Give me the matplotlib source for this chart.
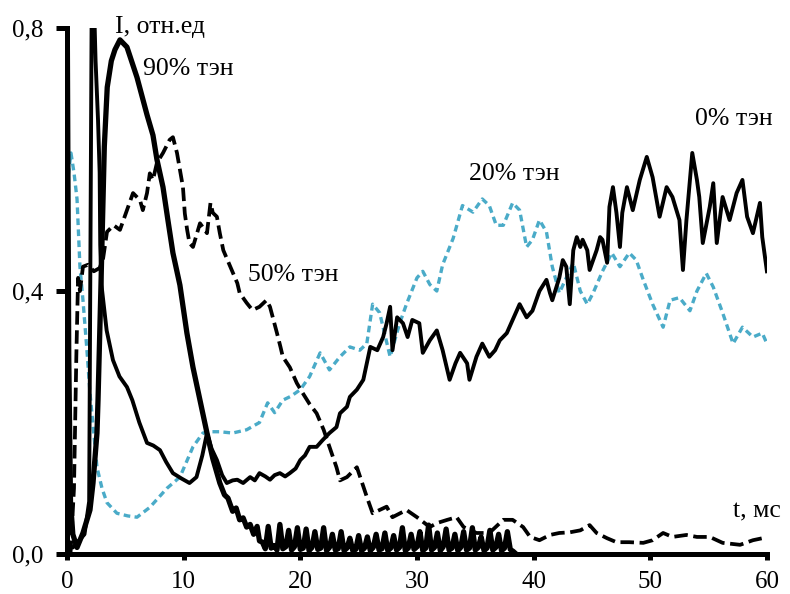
import numpy as np
import matplotlib
matplotlib.use("Agg")
import matplotlib.pyplot as plt

plt.rcParams['font.family'] = ['Liberation Serif', 'DejaVu Serif']

# 0% TEN: sharp flash near 2 ms, then slow growth
t0 = [0.0, 0.5, 1.0, 1.5, 1.9, 2.05, 2.15, 2.3, 2.45, 2.66, 2.8, 2.85, 2.95, 3.4, 3.94,
      4.5, 5.14, 5.6, 6.2, 6.86, 7.4, 7.97, 8.5, 9.08, 9.8, 10.5, 11.1, 11.6, 12.0,
      12.4, 12.85, 13.3, 13.7, 14.2, 14.6, 15.1, 15.7, 16.1, 16.5, 17.0, 17.4, 17.8,
      18.25, 18.7, 19.1, 19.6, 20.0, 20.4, 20.8, 21.4, 21.9, 22.5, 23.1, 23.4, 24.0,
      24.25, 24.85, 25.4, 26.0, 26.6, 27.1, 27.4, 27.7, 27.9, 28.3, 28.8, 29.2, 29.6,
      30.2, 30.5, 31.1, 31.7, 32.2, 32.8, 33.3, 33.7, 34.3, 34.5, 35.1, 35.6, 36.2,
      36.7, 37.1, 37.7, 38.2, 38.8, 39.4, 39.9, 40.5, 41.1, 41.4, 41.6, 42.2, 42.5,
      42.8, 43.1, 43.4, 43.7, 44.0, 44.2, 44.6, 44.8, 45.4, 45.7, 45.9, 46.3, 46.5,
      46.8, 47.1, 47.4, 47.6, 48.0, 48.5, 49.1, 49.7, 50.2, 50.8, 51.4, 51.9, 52.5,
      52.8, 53.1, 53.4, 53.6, 54.0, 54.2, 54.5, 55.1, 55.4, 55.7, 56.2, 56.8, 57.4,
      57.9, 58.3, 58.8, 59.4, 59.6, 60.0]
i0 = [0.01, 0.01, 0.02, 0.03, 0.08, 0.6, 0.95, 0.85, 0.75, 0.66, 0.58, 0.47, 0.41, 0.34, 0.295,
      0.27, 0.254, 0.234, 0.2, 0.169, 0.165, 0.158, 0.14, 0.123, 0.115, 0.108, 0.117, 0.15, 0.184,
      0.16, 0.143, 0.12, 0.108, 0.112, 0.113, 0.108, 0.117, 0.112, 0.123, 0.118, 0.113, 0.12,
      0.123, 0.118, 0.123, 0.13, 0.143, 0.15, 0.163, 0.163, 0.173, 0.184, 0.193, 0.214, 0.224,
      0.239, 0.25, 0.265, 0.315, 0.31, 0.33, 0.351, 0.376, 0.31, 0.36, 0.351, 0.33, 0.356,
      0.351, 0.306, 0.325, 0.34, 0.31, 0.265, 0.29, 0.306, 0.29, 0.265, 0.30, 0.32, 0.30,
      0.31, 0.325, 0.336, 0.356, 0.38, 0.36, 0.37, 0.40, 0.417, 0.397, 0.386, 0.42, 0.447,
      0.437, 0.38, 0.462, 0.482, 0.467, 0.478, 0.462, 0.432, 0.462, 0.482, 0.478, 0.443, 0.528,
      0.558, 0.519, 0.467, 0.519, 0.558, 0.523, 0.569, 0.604, 0.573, 0.513, 0.558, 0.543, 0.508,
      0.432, 0.508, 0.569, 0.61, 0.569, 0.543, 0.473, 0.528, 0.564, 0.473, 0.543, 0.508, 0.549,
      0.569, 0.513, 0.488, 0.534, 0.482, 0.43]

# 20% TEN (blue dotted)
t20 = [0.0, 0.34, 0.6, 0.86, 1.11, 1.37, 1.71, 1.97, 2.57, 3.0, 3.43, 4.28, 5.2, 6.0,
       7.1, 8.57, 9.68, 10.8, 11.65, 12.3, 13.1, 14.2, 15.4, 16.5, 17.2, 17.8, 18.5,
       19.2, 20.0, 20.8, 21.7, 22.5, 23.4, 24.25, 25.1, 25.7, 26.2, 26.8, 27.7, 28.5,
       29.1, 30.0, 30.5, 31.1, 31.7, 32.2, 33.1, 33.9, 34.8, 35.6, 36.2, 36.8, 37.4,
       38.2, 38.8, 39.4, 39.9, 40.5, 41.1, 41.6, 42.2, 42.8, 43.4, 44.0, 44.6, 45.1,
       45.9, 46.7, 47.4, 48.2, 48.8, 49.4, 50.2, 51.1, 51.7, 52.5, 53.4, 54.0, 54.8,
       55.4, 56.2, 57.1, 57.9, 58.8, 59.6, 60.0]
i20 = [0.56, 0.61, 0.58, 0.54, 0.437, 0.386, 0.31, 0.245, 0.132, 0.1, 0.078, 0.062, 0.058, 0.056,
       0.071, 0.10, 0.117, 0.163, 0.184, 0.186, 0.186, 0.184, 0.189, 0.2, 0.23, 0.215, 0.234,
       0.24, 0.25, 0.27, 0.306, 0.28, 0.30, 0.315, 0.31, 0.32, 0.38, 0.367, 0.30, 0.35,
       0.38, 0.42, 0.43, 0.41, 0.40, 0.44, 0.48, 0.53, 0.52, 0.54, 0.53, 0.50, 0.50,
       0.534, 0.523, 0.467, 0.478, 0.508, 0.49, 0.437, 0.397, 0.42, 0.443, 0.40, 0.38, 0.397,
       0.43, 0.458, 0.437, 0.458, 0.447, 0.417, 0.38, 0.345, 0.386, 0.39, 0.37, 0.40, 0.427,
       0.406, 0.367, 0.32, 0.345, 0.33, 0.336, 0.32]

# 50% TEN (black dashed)
t50 = [0.3, 0.6, 0.8, 0.95, 1.11, 1.37, 1.8, 2.3, 2.8, 3.1, 3.43, 4.0, 4.54, 5.14, 5.66,
       6.26, 6.5, 6.86, 7.1, 7.37, 7.71, 8.23, 8.8, 9.08, 9.43, 9.94, 10.1, 10.3, 10.5,
       10.8, 11.4, 12.0, 12.3, 12.5, 12.85, 13.1, 13.4, 14.0, 14.6, 14.8, 15.4, 15.9,
       16.5, 17.1, 17.4, 17.7, 18.0, 18.3, 18.5, 19.1, 19.7, 20.2, 20.8, 21.4, 22.0,
       22.5, 23.1, 23.4, 24.0, 24.85, 25.7, 26.2, 27.4, 27.9, 29.1, 30.0, 31.1, 31.7,
       32.6, 33.4, 34.0, 35.1, 36.2, 37.4, 38.2, 39.1, 39.7, 40.5, 41.4, 42.2, 43.1,
       44.0, 44.8, 45.4, 46.3, 47.1, 48.2, 49.4, 50.2, 51.1, 51.9, 53.1, 54.0, 55.1,
       56.2, 57.7, 58.8, 59.6]
i50 = [0.0, 0.1, 0.3, 0.42, 0.40, 0.437, 0.44, 0.43, 0.435, 0.45, 0.49, 0.5, 0.493, 0.523, 0.549,
       0.538, 0.523, 0.549, 0.579, 0.569, 0.595, 0.61, 0.63, 0.634, 0.61, 0.558, 0.518, 0.493, 0.473,
       0.467, 0.503, 0.488, 0.534, 0.519, 0.513, 0.488, 0.462, 0.437, 0.412, 0.397, 0.382, 0.371,
       0.376, 0.386, 0.376, 0.356, 0.336, 0.315, 0.30, 0.284, 0.26, 0.245, 0.228, 0.214, 0.189,
       0.163, 0.132, 0.112, 0.117, 0.132, 0.087, 0.062, 0.072, 0.056, 0.067, 0.056, 0.041, 0.047,
       0.052, 0.056, 0.041, 0.032, 0.032, 0.052, 0.052, 0.041, 0.026, 0.021, 0.029, 0.032, 0.033,
       0.036, 0.044, 0.032, 0.024, 0.018, 0.018, 0.017, 0.021, 0.032, 0.026, 0.029, 0.026, 0.026,
       0.017, 0.014, 0.021, 0.024]

# 90% TEN (thick solid): main pulse
t90 = [0.0, 0.15, 0.3, 0.5, 0.86, 1.37, 1.97, 2.23, 2.57, 2.66, 2.9, 3.1, 3.2, 3.45,
       3.8, 4.11, 4.54, 5.14, 6.0, 6.86, 7.37, 7.71, 8.23, 8.65, 9.08, 9.68, 10.28,
       10.8, 11.4, 12.0, 12.5, 13.1, 13.5, 13.8, 14.2, 14.5, 14.8, 15.1, 15.4, 15.7,
       16.0, 16.3, 16.5]
i90 = [0.9, 0.3, 0.08, 0.03, 0.01, 0.032, 0.067, 0.108, 0.184, 0.234, 0.4, 0.55, 0.62, 0.71,
       0.75, 0.767, 0.782, 0.771, 0.725, 0.668, 0.637, 0.60, 0.558, 0.508, 0.458, 0.409, 0.336,
       0.284, 0.234, 0.184, 0.145, 0.108, 0.09, 0.085, 0.065, 0.07, 0.052, 0.055, 0.041, 0.045,
       0.03, 0.042, 0.02]
# 90% TEN: noisy tail near zero, sampled every 0.25 ms from 16.75 to 38.5 ms
t90_tail = np.arange(16.75, 38.51, 0.25)
i90_tail = [0.018, 0.008, 0.042, 0.009, 0.013, 0.006, 0.045, 0.008,
            0.011, 0.036, 0.006, 0.011, 0.040, 0.007, 0.009, 0.038,
            0.005, 0.010, 0.034, 0.007, 0.009, 0.040, 0.005, 0.010,
            0.030, 0.006, 0.008, 0.034, 0.005, 0.009, 0.024, 0.005,
            0.007, 0.028, 0.005, 0.009, 0.026, 0.005, 0.010, 0.030,
            0.006, 0.008, 0.032, 0.005, 0.009, 0.028, 0.006, 0.010,
            0.040, 0.005, 0.009, 0.030, 0.007, 0.011, 0.034, 0.005,
            0.009, 0.044, 0.006, 0.010, 0.032, 0.005, 0.011, 0.038,
            0.006, 0.009, 0.030, 0.005, 0.010, 0.034, 0.006, 0.009,
            0.040, 0.006, 0.010, 0.026, 0.005, 0.009, 0.036, 0.006,
            0.010, 0.030, 0.005, 0.009, 0.034, 0.007, 0.004, 0.000]

x_ticks = [0, 10, 20, 30, 40, 50, 60]
y_ticks = [0.0, 0.4, 0.8]
y_tick_labels = ["0,0", "0,4", "0,8"]

fig = plt.figure(figsize=(7.9, 5.94), dpi=100)
ax = fig.add_axes([0.0848, 0.0673, 0.886, 0.8855])

blue = '#4aabc8'
ax.plot(t20, i20, color=blue, lw=2.4, dashes=(2.0, 1.3), zorder=3)
ax.plot(t50, i50, color='black', lw=2.7, dashes=(3.6, 1.5), zorder=3)
ax.plot(t0, i0, color='black', lw=2.8, zorder=3)
ax.plot(np.concatenate([t90, t90_tail]), list(i90) + list(i90_tail),
        color='black', lw=3.8, zorder=3)

ax.set_xlim(0, 60)
ax.set_ylim(0, 0.8)
ax.set_xticks(x_ticks)
ax.set_yticks(y_ticks)
ax.set_yticklabels(y_tick_labels)

for side in ['top', 'right']:
    ax.spines[side].set_visible(False)
for side in ['left', 'bottom']:
    ax.spines[side].set_linewidth(3.6)
    ax.spines[side].set_zorder(4)

ax.tick_params(axis='y', direction='out', length=8, width=3.6, pad=9, labelsize=18)
ax.tick_params(axis='x', direction='out', length=4, width=3.6, pad=8, labelsize=18)

txt = dict(fontsize=18.5, clip_on=False, va='baseline', ha='left')
ax.text(4.1, 0.792, "I, отн.ед", **txt)
ax.text(6.5, 0.729, "90% тэн", **txt)
ax.text(15.5, 0.415, "50% тэн", **txt)
ax.text(34.5, 0.569, "20% тэн", **txt)
ax.text(53.8, 0.652, "0% тэн", **txt)
ax.text(57.1, 0.056, "t, мс", **txt)

fig.savefig("out.png", dpi=100)
